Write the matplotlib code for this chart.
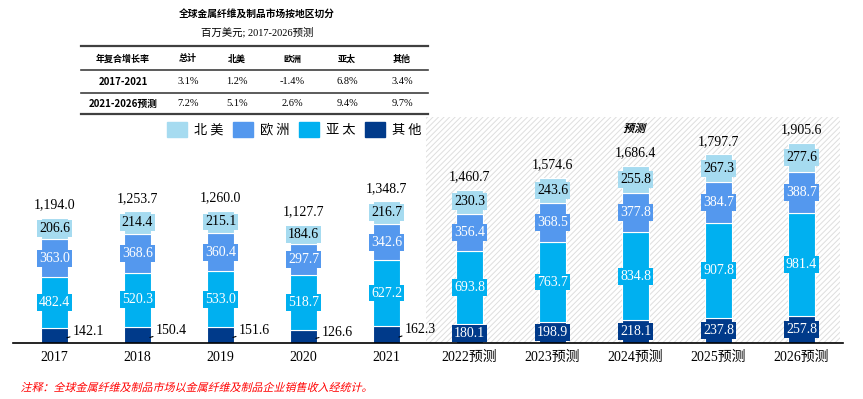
import matplotlib.pyplot as plt
from matplotlib.patches import Rectangle, PathPatch
from matplotlib.textpath import TextPath
from matplotlib.font_manager import FontProperties
from matplotlib.transforms import Affine2D, IdentityTransform
import numpy as np

# data
years = ['2017', '2018', '2019', '2020', '2021',
         '2022预测', '2023预测', '2024预测', '2025预测', '2026预测']
north_america = [206.6, 214.4, 215.1, 184.6, 216.7, 230.3, 243.6, 255.8, 267.3, 277.6]
europe = [363.0, 368.6, 360.4, 297.7, 342.6, 356.4, 368.5, 377.8, 384.7, 388.7]
asia_pacific = [482.4, 520.3, 533.0, 518.7, 627.2, 693.8, 763.7, 834.8, 907.8, 981.4]
others = [142.1, 150.4, 151.6, 126.6, 162.3, 180.1, 198.9, 218.1, 237.8, 257.8]
totals = [1194.0, 1253.7, 1260.0, 1127.7, 1348.7, 1460.7, 1574.6, 1686.4, 1797.7, 1905.6]

table_header = ['年复合增长率', '总计', '北美', '欧洲', '亚太', '其他']
table_rows = [['2017-2021', '3.1%', '1.2%', '-1.4%', '6.8%', '3.4%'],
              ['2021-2026预测', '7.2%', '5.1%', '2.6%', '9.4%', '9.7%']]

plt.rcParams['font.family'] = ['Liberation Serif', 'Noto Sans CJK SC', 'DejaVu Sans']
plt.rcParams['hatch.linewidth'] = 0.7
cjk = ['Noto Sans CJK SC', 'DejaVu Sans']
num = ['Liberation Serif', 'Noto Sans CJK SC']

c_na = '#A6DBF0'
c_eu = '#5498EE'
c_ap = '#00B0F0'
c_ot = '#003A8A'

W, H = 863, 399
fig = plt.figure(figsize=(W / 100, H / 100), dpi=100)


def fx(px):
    return px / W


def fy(py):
    return 1 - py / H


def slanted(px, py, s, size, color, weight='normal', ha='left'):
    # CJK fonts have no italic, so shear the glyph outlines by hand
    tp = TextPath((0, 0), s, size=size, prop=FontProperties(family='Noto Sans CJK SC', weight=weight))
    bb = tp.get_extents()
    dx = -bb.x0 if ha == 'left' else -(bb.x0 + bb.x1) / 2
    dy = -(bb.y0 + bb.y1) / 2
    tr = Affine2D().translate(dx, dy).skew_deg(14, 0).translate(px, H - py)
    fig.patches.append(PathPatch(tp, transform=tr + IdentityTransform(), fc=color, ec='none'))


# title + table
fig.text(fx(257), fy(15), '全球金属纤维及制品市场按地区切分', family=cjk, fontsize=7,
         fontweight='bold', ha='center', va='center')
fig.text(fx(257), fy(32), '百万美元; 2017-2026预测', family=num, fontsize=7.5,
         ha='center', va='center')

col_x = [123, 188, 237, 292, 347, 402]
for py, lw in [(46, 1.6), (70, 1.2), (93, 1.2), (114, 1.6)]:
    fig.lines.append(plt.Line2D([fx(81), fx(428)], [fy(py), fy(py)], transform=fig.transFigure,
                                color='#404040', lw=lw))
for x, t in zip(col_x, table_header):
    fig.text(fx(x), fy(59), t, family=cjk, fontsize=6.5, fontweight='bold', ha='center', va='center')
for py, row in zip([82, 104], table_rows):
    for j, (x, t) in enumerate(zip(col_x, row)):
        fig.text(fx(x), fy(py), t, family=num if j else cjk, fontsize=7.5 if j else 7,
                 fontweight='bold' if j == 0 else 'normal', ha='center', va='center')

# chart
ax = fig.add_axes([fx(13), fy(343), fx(843) - fx(13), fy(112) - fy(343)])
x = np.arange(len(years))
bw = 0.33

ax.add_patch(Rectangle((4.48, 0), 4.98, 2150, facecolor='none', edgecolor='#dedede',
                       hatch='//////', lw=0, zorder=0))

ax.bar(x, others, bw, color=c_ot, edgecolor='white', lw=0.8, zorder=2)
ax.bar(x, asia_pacific, bw, bottom=others, color=c_ap, edgecolor='white', lw=0.8, zorder=2)
bot3 = np.array(others) + np.array(asia_pacific)
ax.bar(x, europe, bw, bottom=bot3, color=c_eu, edgecolor='white', lw=0.8, zorder=2)
bot4 = bot3 + np.array(europe)
ax.bar(x, north_america, bw, bottom=bot4, color=c_na, edgecolor='white', lw=0.8, zorder=2)


def boxlabel(xi, yi, val, fc, tc):
    ax.text(xi, yi, f'{val:.1f}', family=num, fontsize=10, color=tc, ha='center', va='center',
            zorder=4, bbox=dict(boxstyle='square,pad=0.14', fc=fc, ec='none'))


for i in x:
    boxlabel(i, others[i] + asia_pacific[i] / 2, asia_pacific[i], c_ap, 'white')
    boxlabel(i, bot3[i] + europe[i] / 2, europe[i], c_eu, 'white')
    boxlabel(i, bot4[i] + north_america[i] / 2, north_america[i], c_na, 'black')
    ax.text(i, totals[i] + 60, f'{totals[i]:,.1f}', family=num, fontsize=10,
            ha='center', va='bottom', zorder=4)
    if i < 5:
        ax.annotate(f'{others[i]:.1f}', xy=(i + 0.15, others[i] * 0.35),
                    xytext=(i + 0.22, others[i] * 0.78), family=num, fontsize=10,
                    ha='left', va='center', zorder=4,
                    arrowprops=dict(arrowstyle='-', color='black', lw=0.8, shrinkA=0, shrinkB=0))
    else:
        boxlabel(i, others[i] / 2, others[i], c_ot, 'white')

ax.set_xlim(-0.5, 9.5)
ax.set_ylim(0, 2200)
ax.set_xticks(x)
ax.set_xticklabels(years, family=num, fontsize=10)
ax.tick_params(axis='x', length=0, pad=6)
ax.set_yticks([])
for s in ['top', 'right', 'left']:
    ax.spines[s].set_visible(False)
ax.spines['bottom'].set_linewidth(1.2)
ax.patch.set_alpha(0)

slanted(635, 128, '预测', 11, 'black', weight='bold', ha='center')

# legend
for k, (lab, c) in enumerate(zip(['北美', '欧洲', '亚太', '其他'], [c_na, c_eu, c_ap, c_ot])):
    lx = 167 + 66 * k
    fig.patches.append(Rectangle((fx(lx), fy(137)), fx(20), fy(122) - fy(137),
                                 transform=fig.transFigure, color=c))
    fig.text(fx(lx + 27), fy(130), ' '.join(lab), family=cjk, fontsize=9.5, ha='left', va='center')

slanted(22, 387, '注释：全球金属纤维及制品市场以金属纤维及制品企业销售收入经统计。', 11, 'red')

fig.savefig('out.png', dpi=100)
